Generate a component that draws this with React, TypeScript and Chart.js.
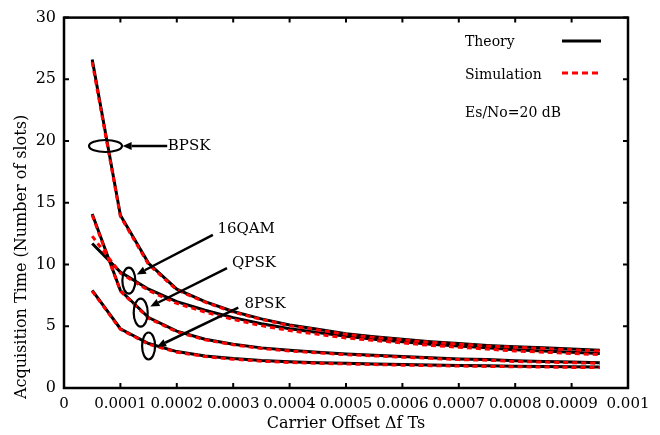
import React, { useEffect, useRef } from "react";
import { Chart, registerables } from "chart.js";

Chart.register(...registerables);

const offsets = [0.00005, 0.0001, 0.00015, 0.0002, 0.00025, 0.0003, 0.00035, 0.0004, 0.00045, 0.0005, 0.00055, 0.0006, 0.00065, 0.0007, 0.00075, 0.0008, 0.00085, 0.0009, 0.00095];

const bpskTheory = [26.6, 14.0, 10.1, 8.0, 7.0, 6.2, 5.6, 5.1, 4.75, 4.4, 4.15, 3.95, 3.75, 3.6, 3.45, 3.35, 3.25, 3.15, 3.05];
const bpskSim = [26.4, 13.9, 10.0, 7.95, 6.95, 6.15, 5.55, 5.05, 4.7, 4.35, 4.1, 3.9, 3.7, 3.55, 3.4, 3.3, 3.2, 3.1, 3.0];
const qam16Theory = [11.7, 9.4, 8.0, 7.0, 6.3, 5.7, 5.2, 4.8, 4.5, 4.2, 3.95, 3.75, 3.55, 3.4, 3.25, 3.1, 3.0, 2.9, 2.8];
const qam16Sim = [12.3, 9.3, 7.9, 6.85, 6.15, 5.55, 5.05, 4.65, 4.35, 4.05, 3.85, 3.65, 3.45, 3.3, 3.15, 3.0, 2.9, 2.8, 2.7];
const qpskTheory = [14.1, 7.9, 5.7, 4.6, 3.95, 3.55, 3.25, 3.05, 2.9, 2.75, 2.65, 2.55, 2.45, 2.35, 2.3, 2.2, 2.15, 2.1, 2.05];
const qpskSim = [14.0, 7.85, 5.65, 4.55, 3.9, 3.5, 3.2, 3.0, 2.85, 2.7, 2.6, 2.5, 2.4, 2.3, 2.25, 2.15, 2.1, 2.05, 2.0];
const psk8Theory = [7.9, 4.8, 3.6, 2.95, 2.6, 2.38, 2.22, 2.12, 2.05, 2.0, 1.95, 1.9, 1.86, 1.83, 1.8, 1.77, 1.75, 1.72, 1.7];
const psk8Sim = [7.85, 4.75, 3.55, 2.9, 2.55, 2.33, 2.17, 2.07, 2.0, 1.95, 1.9, 1.85, 1.81, 1.78, 1.75, 1.72, 1.7, 1.67, 1.65];

const xTicks = [0, 0.0001, 0.0002, 0.0003, 0.0004, 0.0005, 0.0006, 0.0007, 0.0008, 0.0009, 0.001];
const yTicks = [0, 5, 10, 15, 20, 25, 30];

const curveLabels = ["BPSK", "16QAM", "QPSK", "8PSK"];
const legendLabels = ["Theory", "Simulation", "Es/No=20 dB"];
const xTitle = "Carrier Offset \u0394f Ts";
const yTitle = "Acquisition Time (Number of slots)";

const FONT = "DejaVu Serif";

const toPts = (ys: number[]) => offsets.map((x, i) => ({ x, y: ys[i] }));

// annotation geometry in data units: ellipse center, arrow tail, arrow head, label anchor
const annotations = [
  { label: curveLabels[0], cx: 0.0000736, cy: 19.6, rxPx: 16.5, ryPx: 6, tail: [0.000183, 19.6], head: [0.000104, 19.6], text: [0.000184, 19.6] },
  { label: curveLabels[1], cx: 0.000115, cy: 8.7, rxPx: 6.5, ryPx: 13, tail: [0.000264, 12.4], head: [0.000129, 9.2], text: [0.000272, 12.9] },
  { label: curveLabels[2], cx: 0.000136, cy: 6.1, rxPx: 7, ryPx: 14, tail: [0.000289, 9.7], head: [0.000153, 6.6], text: [0.000298, 10.1] },
  { label: curveLabels[3], cx: 0.000150, cy: 3.4, rxPx: 6.5, ryPx: 13.5, tail: [0.000309, 6.5], head: [0.000165, 3.35], text: [0.000320, 6.8] },
];

const framePlugin = {
  id: "frame",
  afterDraw(chart: any) {
    const { ctx, chartArea: a, scales } = chart;
    const xs = scales.x, ys = scales.y;
    ctx.save();
    ctx.strokeStyle = "#000";
    ctx.lineWidth = 2.5;
    ctx.strokeRect(a.left, a.top, a.right - a.left, a.bottom - a.top);
    ctx.lineWidth = 2;
    const tl = 5;
    xTicks.forEach((v) => {
      const px = xs.getPixelForValue(v);
      ctx.beginPath();
      ctx.moveTo(px, a.bottom);
      ctx.lineTo(px, a.bottom - tl);
      ctx.moveTo(px, a.top);
      ctx.lineTo(px, a.top + tl);
      ctx.stroke();
    });
    yTicks.forEach((v) => {
      const py = ys.getPixelForValue(v);
      ctx.beginPath();
      ctx.moveTo(a.left, py);
      ctx.lineTo(a.left + tl, py);
      ctx.moveTo(a.right, py);
      ctx.lineTo(a.right - tl, py);
      ctx.stroke();
    });

    // y axis title
    ctx.fillStyle = "#000";
    ctx.save();
    ctx.translate(22, 257);
    ctx.rotate(-Math.PI / 2);
    ctx.font = `16px "${FONT}"`;
    ctx.textAlign = "center";
    ctx.textBaseline = "middle";
    ctx.fillText(yTitle, 0, 0);
    ctx.restore();

    // annotations
    ctx.font = `15px "${FONT}"`;
    ctx.textBaseline = "middle";
    ctx.textAlign = "left";
    annotations.forEach((an) => {
      const cx = xs.getPixelForValue(an.cx);
      const cy = ys.getPixelForValue(an.cy);
      ctx.lineWidth = 2.2;
      ctx.beginPath();
      ctx.ellipse(cx, cy, an.rxPx, an.ryPx, 0, 0, Math.PI * 2);
      ctx.stroke();
      const tx = xs.getPixelForValue(an.tail[0]);
      const ty = ys.getPixelForValue(an.tail[1]);
      const hx = xs.getPixelForValue(an.head[0]);
      const hy = ys.getPixelForValue(an.head[1]);
      const ang = Math.atan2(hy - ty, hx - tx);
      const hl = 9, hw = 4;
      const bx = hx - hl * Math.cos(ang);
      const by = hy - hl * Math.sin(ang);
      ctx.lineWidth = 2.5;
      ctx.beginPath();
      ctx.moveTo(tx, ty);
      ctx.lineTo(bx, by);
      ctx.stroke();
      ctx.beginPath();
      ctx.moveTo(hx, hy);
      ctx.lineTo(bx + hw * Math.sin(ang), by - hw * Math.cos(ang));
      ctx.lineTo(bx - hw * Math.sin(ang), by + hw * Math.cos(ang));
      ctx.closePath();
      ctx.fill();
      ctx.fillText(an.label, xs.getPixelForValue(an.text[0]), ys.getPixelForValue(an.text[1]));
    });

    // legend box
    ctx.font = `14px "${FONT}"`;
    ctx.fillText(legendLabels[0], 465, 42);
    ctx.fillText(legendLabels[1], 465, 75);
    ctx.fillText(legendLabels[2], 465, 113);
    ctx.lineWidth = 3;
    ctx.strokeStyle = "#000";
    ctx.beginPath();
    ctx.moveTo(562, 41);
    ctx.lineTo(601, 41);
    ctx.stroke();
    ctx.strokeStyle = "#ff0000";
    ctx.setLineDash([6, 4]);
    ctx.beginPath();
    ctx.moveTo(562, 73);
    ctx.lineTo(601, 73);
    ctx.stroke();
    ctx.restore();
  },
};

export default function App() {
  const ref = useRef<HTMLCanvasElement | null>(null);
  useEffect(() => {
    if (!ref.current) return;
    Chart.defaults.font.family = FONT;
    Chart.defaults.color = "#000";
    const theory = (ys: number[]) => ({
      data: toPts(ys),
      borderColor: "#000",
      borderWidth: 3,
      pointRadius: 0,
      tension: 0,
      fill: false,
      order: 2,
    });
    const sim = (ys: number[]) => ({
      data: toPts(ys),
      borderColor: "#ff0000",
      borderWidth: 3,
      borderDash: [5, 4],
      pointRadius: 0,
      tension: 0,
      fill: false,
      order: 1,
    });
    const chart = new Chart(ref.current, {
      type: "line",
      data: {
        datasets: [
          { label: "BPSK Theory", ...theory(bpskTheory) },
          { label: "16QAM Theory", ...theory(qam16Theory) },
          { label: "QPSK Theory", ...theory(qpskTheory) },
          { label: "8PSK Theory", ...theory(psk8Theory) },
          { label: "BPSK Simulation", ...sim(bpskSim) },
          { label: "16QAM Simulation", ...sim(qam16Sim) },
          { label: "QPSK Simulation", ...sim(qpskSim) },
          { label: "8PSK Simulation", ...sim(psk8Sim) },
        ],
      },
      options: {
        responsive: false,
        animation: false,
        layout: { padding: { top: 15, right: 32, left: 0, bottom: 0 } },
        plugins: { legend: { display: false }, tooltip: { enabled: false } },
        scales: {
          x: {
            type: "linear",
            min: 0,
            max: 0.001,
            afterFit: (s: any) => { s.height = 47; },
            afterBuildTicks: (s: any) => { s.ticks = xTicks.map((v) => ({ value: v })); },
            grid: { display: false, drawTicks: false },
            border: { display: false },
            ticks: {
              autoSkip: false,
              maxRotation: 0,
              padding: 7,
              font: { size: 15, family: FONT },
              color: "#000",
              callback: (v: any) => { const n = Number(v); return n === 0 ? "0" : String(parseFloat(n.toFixed(4))); },
            },
            title: { display: true, text: xTitle, font: { size: 16, family: FONT }, color: "#000", padding: { top: 0, bottom: 2 } },
          },
          y: {
            type: "linear",
            min: 0,
            max: 30,
            afterFit: (s: any) => { s.width = 64; },
            afterBuildTicks: (s: any) => { s.ticks = yTicks.map((v) => ({ value: v })); },
            grid: { display: false, drawTicks: false },
            border: { display: false },
            ticks: { padding: 8, font: { size: 16, family: FONT }, color: "#000" },
            title: { display: false },
          },
        },
      },
      plugins: [framePlugin],
    } as any);
    return () => chart.destroy();
  }, []);
  return (
    <div style={{ position: "fixed", left: 0, top: 0, width: 660, height: 435, background: "#fff" }}>
      <canvas ref={ref} width={660} height={435} style={{ width: 660, height: 435 }} />
    </div>
  );
}
